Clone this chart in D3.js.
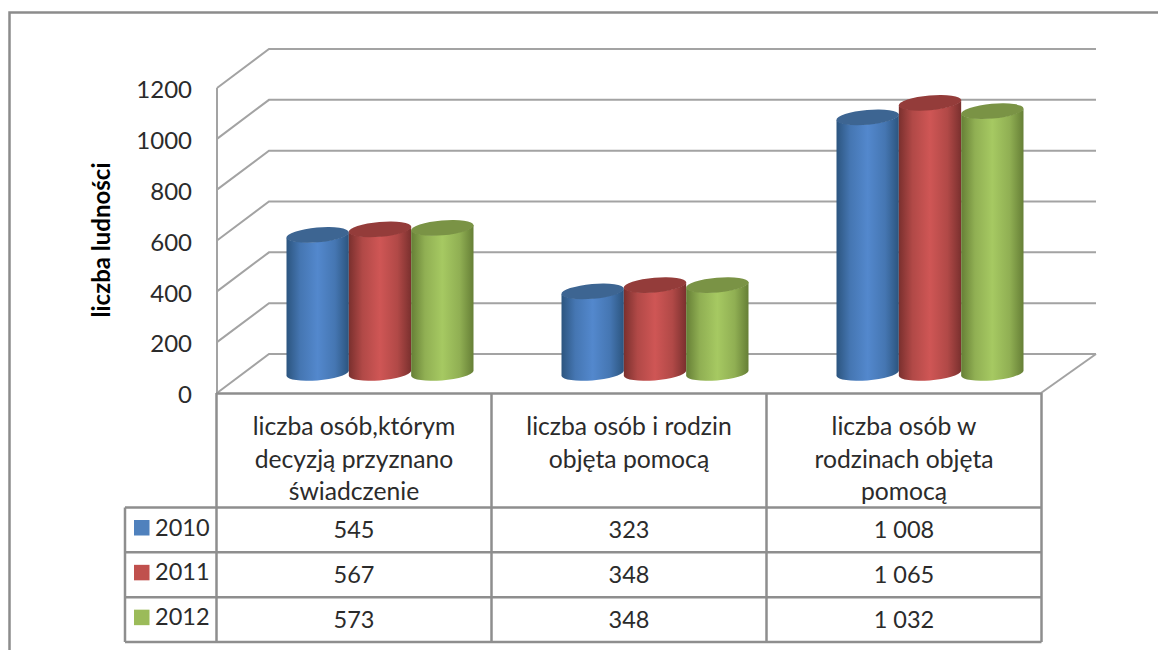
<!DOCTYPE html>
<html>
<head>
<meta charset="utf-8">
<script src="https://cdn.jsdelivr.net/npm/d3@7"></script>
<style>
  html, body { margin: 0; padding: 0; background: #fff; overflow: hidden; }
  text { font-family: Lato, "Open Sans", sans-serif; fill: #2b2b2b; }
</style>
</head>
<body>
<div id="chart"></div>
<script>
var categories = ["cat1", "cat2", "cat3"];
var categoryLines = [
    ["liczba osób,którym", "decyzją przyznano", "świadczenie"],
    ["liczba osób i rodzin", "objęta pomocą"],
    ["liczba osób w", "rodzinach objęta", "pomocą"]
];
var years = ["2010", "2011", "2012"];
var values2010 = [545, 323, 1008];
var values2011 = [567, 348, 1065];
var values2012 = [573, 348, 1032];
var yTicks = [0, 200, 400, 600, 800, 1000, 1200];

var allValues = [values2010, values2011, values2012];
var colors = {
    "2010": { edge: "#2c557f", mid: "#5388cd", cap: "#3d6592", key: "#4f81bd" },
    "2011": { edge: "#7a302e", mid: "#cf5655", cap: "#943c3a", key: "#c0504d" },
    "2012": { edge: "#667f36", mid: "#a6c962", cap: "#7a9345", key: "#9bbb59" }
};

var width = 1158, height = 650;
var depthX = 52, depthY = -39;
var gridColor = "#a3a3a3", tableColor = "#8e8e8e";

var svg = d3.select("#chart").append("svg")
    .attr("width", width)
    .attr("height", height)
    .style("display", "block");

var x = d3.scaleBand().domain(categories).range([216.5, 1041.5]);
var y = d3.scaleLinear().domain([0, 1200]).range([393, 88]);
var xInner = d3.scaleBand().domain(years).range([0, 187]);

// gradients for the cylinder sides
var defs = svg.append("defs");
years.forEach(function(yr) {
    var g = defs.append("linearGradient").attr("id", "grad" + yr);
    g.append("stop").attr("offset", "0%").attr("stop-color", colors[yr].edge);
    g.append("stop").attr("offset", "22%").attr("stop-color", d3.interpolateRgb(colors[yr].edge, colors[yr].mid)(0.65));
    g.append("stop").attr("offset", "50%").attr("stop-color", colors[yr].mid);
    g.append("stop").attr("offset", "78%").attr("stop-color", d3.interpolateRgb(colors[yr].edge, colors[yr].mid)(0.65));
    g.append("stop").attr("offset", "100%").attr("stop-color", colors[yr].edge);
});

// outer frame, cut off by the picture on the right and at the bottom
svg.append("path")
    .attr("d", "M9.5," + height + "V12.5H" + width)
    .attr("fill", "none")
    .attr("stroke", "#8c8c8c")
    .attr("stroke-width", 2.5);

// walls and floor
var walls = svg.append("g")
    .attr("fill", "none")
    .attr("stroke", gridColor)
    .attr("stroke-width", 2);

yTicks.forEach(function(t) {
    walls.append("path")
        .attr("d", "M217," + y(t) + "L" + (217 + depthX) + "," + (y(t) + depthY) + "H1096");
});
walls.append("line")
    .attr("x1", 217).attr("x2", 217)
    .attr("y1", y(1200)).attr("y2", y(0));
walls.append("line")
    .attr("x1", 1041).attr("y1", y(0))
    .attr("x2", 1041 + depthX + 3).attr("y2", y(0) + depthY);

// cylinders
var halfW = xInner.bandwidth() / 2;
var rx = halfW + 0.2, ry = 7.4, tilt = -5, endDy = 2.5;

function bodyPath(cx, yTop, yBase) {
    return "M" + (cx - halfW) + "," + (yTop + endDy) +
        "L" + (cx - halfW) + "," + (yBase + endDy) +
        "A" + rx + "," + ry + " " + tilt + " 0 0 " + (cx + halfW) + "," + (yBase - endDy) +
        "L" + (cx + halfW) + "," + (yTop - endDy) +
        "A" + rx + "," + ry + " " + tilt + " 0 1 " + (cx - halfW) + "," + (yTop + endDy) + "Z";
}

years.forEach(function(yr, i) {
    var group = svg.append("g").attr("class", "series-" + yr);
    var bars = group.selectAll("g.bar")
        .data(categories.map(function(c, j) { return { cat: c, value: allValues[i][j] }; }))
        .enter().append("g").attr("class", "bar");

    function cx(d) {
        return x(d.cat) + (x.bandwidth() - 187) / 2 + depthX / 2 + xInner(yr) + halfW;
    }

    bars.append("path")
        .attr("d", function(d) {
            return bodyPath(cx(d), y(d.value) + depthY / 2, y(0) + depthY / 2);
        })
        .attr("fill", "url(#grad" + yr + ")");

    bars.append("ellipse")
        .attr("rx", rx)
        .attr("ry", ry)
        .attr("fill", colors[yr].cap)
        .attr("transform", function(d) {
            return "translate(" + cx(d) + "," + (y(d.value) + depthY / 2) + ") rotate(" + tilt + ")";
        });
});

// y axis
var yAxis = svg.append("g")
    .attr("transform", "translate(192,2)")
    .call(d3.axisLeft(y).tickValues(yTicks).tickSize(0).tickPadding(0).tickFormat(d3.format("d")));
yAxis.select(".domain").remove();
yAxis.selectAll("text")
    .style("font-family", "Lato")
    .style("font-size", "24px")
    .attr("fill", "#2b2b2b");

svg.append("text")
    .attr("transform", "translate(110,240) rotate(-90)")
    .attr("text-anchor", "middle")
    .style("font-size", "24px")
    .style("font-weight", "700")
    .style("fill", "#000")
    .text("liczba ludności");

// data table
var rowY = d3.scaleBand().domain(years).range([507.5, 642]);
var table = svg.append("g")
    .attr("fill", "none")
    .attr("stroke", tableColor)
    .attr("stroke-width", 2.5);

table.append("line").attr("x1", 216).attr("x2", 1041.5).attr("y1", 393.5).attr("y2", 393.5);
table.append("line").attr("x1", 125).attr("x2", 1041.5).attr("y1", 507.5).attr("y2", 507.5);
years.forEach(function(yr) {
    table.append("line")
        .attr("x1", 125).attr("x2", 1041.5)
        .attr("y1", rowY(yr) + rowY.bandwidth()).attr("y2", rowY(yr) + rowY.bandwidth());
});
table.append("line").attr("x1", 125).attr("x2", 125).attr("y1", 507.5).attr("y2", 642);
table.append("line").attr("x1", 216.5).attr("x2", 216.5).attr("y1", 393).attr("y2", 642);
categories.forEach(function(c) {
    var xr = x(c) + x.bandwidth();
    table.append("line").attr("x1", xr).attr("x2", xr).attr("y1", 393).attr("y2", 642);
});

// category headers
categories.forEach(function(c, j) {
    categoryLines[j].forEach(function(line, k) {
        svg.append("text")
            .attr("x", x(c) + x.bandwidth() / 2)
            .attr("y", 435 + k * 32.5)
            .attr("text-anchor", "middle")
            .style("font-size", "24.7px")
            .text(line);
    });
});

// legend keys and row values
var fmt = function(v) {
    return v >= 1000 ? Math.floor(v / 1000) + "\u00a0" + d3.format("03d")(v % 1000) : String(v);
};

years.forEach(function(yr, i) {
    svg.append("rect")
        .attr("x", 134)
        .attr("y", rowY(yr) + 12.5)
        .attr("width", 15.5)
        .attr("height", 15.5)
        .attr("fill", colors[yr].key);

    svg.append("text")
        .attr("x", 155)
        .attr("y", rowY(yr) + 28)
        .style("font-size", "23.5px")
        .text(yr);

    categories.forEach(function(c, j) {
        svg.append("text")
            .attr("x", x(c) + x.bandwidth() / 2)
            .attr("y", rowY(yr) + 30.5)
            .attr("text-anchor", "middle")
            .style("font-size", "23.5px")
            .text(fmt(allValues[i][j]));
    });
});
</script>
</body>
</html>
